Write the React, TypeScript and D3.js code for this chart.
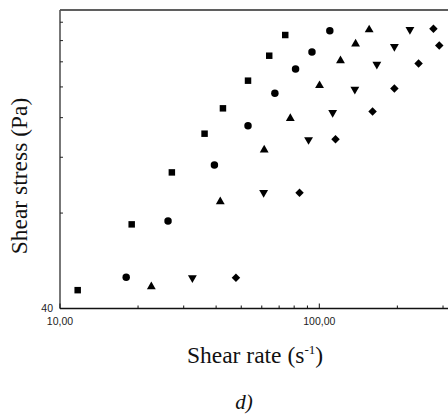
import React, { useEffect, useRef } from "react";
import * as d3 from "d3";

// shear rate (s^-1) / shear stress (Pa)
const rateSquare = [11.7, 18.9, 27.0, 36.1, 42.5, 53.1, 64.1, 73.9];
const stressSquare = [45.7, 73.7, 107.5, 142.4, 171.2, 209.3, 250.9, 291.6];

const rateCircle = [18.0, 26.1, 39.4, 53.1, 67.4, 81.0, 93.7, 109.8];
const stressCircle = [50.2, 75.5, 113.4, 150.9, 191.0, 227.8, 257.7, 300.9];

const rateTriUp = [22.5, 41.5, 61.3, 77.3, 100.2, 120.7, 138.0, 155.7];
const stressTriUp = [46.9, 86.9, 126.5, 159.2, 202.0, 242.0, 273.2, 302.9];

const rateTriDown = [32.4, 61.0, 90.9, 112.6, 137.1, 166.7, 194.8, 223.6];
const stressTriDown = [50.0, 92.8, 136.3, 165.9, 196.6, 235.7, 268.0, 303.3];

const rateDiamond = [47.7, 83.9, 115.5, 160.5, 194.8, 241.5, 290.1, 275.5];
const stressDiamond = [50.0, 92.8, 136.8, 167.4, 197.7, 237.1, 270.0, 305.3];

const xTicks = [10, 20, 30, 40, 50, 60, 70, 80, 90, 100, 200, 300, 400];
const xLabels = [
  { v: 10, text: "10,00" },
  { v: 100, text: "100,00" },
];
const yTicks = [80, 120, 160, 200, 240, 280, 320];

const App = () => {
  const svgRef = useRef(null);

  useEffect(() => {
    const width = 448;
    const height = 419;

    const svg = d3.select(svgRef.current);
    svg.selectAll("*").remove();
    svg.attr("width", width).attr("height", height);

    // log scales, extrapolated past the window on the right
    const x = d3.scaleLog().domain([10, 100]).range([60, 319.3]);
    const y = d3.scaleLog().domain([40, 400]).range([308.5, -8.5]);

    const left = 60;
    const right = 480;
    const top = 10;
    const bottom = 308.5;

    // frame
    svg.append("line")
      .attr("x1", left).attr("x2", right)
      .attr("y1", top).attr("y2", top)
      .attr("stroke", "#2a2a2a").attr("stroke-width", 1.6);
    svg.append("line")
      .attr("x1", left).attr("x2", left)
      .attr("y1", top).attr("y2", bottom)
      .attr("stroke", "#555").attr("stroke-width", 1.6);
    svg.append("line")
      .attr("x1", left).attr("x2", right)
      .attr("y1", bottom).attr("y2", bottom)
      .attr("stroke", "#111").attr("stroke-width", 1.6);

    // x ticks, pointing in
    svg.append("g")
      .selectAll("line")
      .data(xTicks)
      .join("line")
      .attr("x1", (d) => x(d)).attr("x2", (d) => x(d))
      .attr("y1", bottom)
      .attr("y2", (d) => (d === 10 || d === 100 ? bottom - 5 : bottom - 3))
      .attr("stroke", "#111").attr("stroke-width", 1);

    svg.append("g")
      .selectAll("text")
      .data(xLabels)
      .join("text")
      .attr("x", (d) => x(d.v))
      .attr("y", 325)
      .attr("text-anchor", "middle")
      .attr("font-family", "Liberation Sans, Arial, sans-serif")
      .attr("font-size", 10.5)
      .attr("fill", "#222")
      .text((d) => d.text);

    // y ticks
    svg.append("g")
      .selectAll("line")
      .data(yTicks)
      .join("line")
      .attr("x1", left).attr("x2", left + 3)
      .attr("y1", (d) => y(d)).attr("y2", (d) => y(d))
      .attr("stroke", "#222").attr("stroke-width", 1);

    svg.append("text")
      .attr("x", 53)
      .attr("y", 312)
      .attr("text-anchor", "end")
      .attr("font-family", "Liberation Sans, Arial, sans-serif")
      .attr("font-size", 10.5)
      .attr("fill", "#222")
      .text("40");

    // markers
    const series = [
      { xs: rateSquare, ys: stressSquare, type: d3.symbolSquare, size: 42, rot: 0 },
      { xs: rateCircle, ys: stressCircle, type: d3.symbolCircle, size: 44, rot: 0 },
      { xs: rateTriUp, ys: stressTriUp, type: d3.symbolTriangle, size: 34, rot: 0 },
      { xs: rateTriDown, ys: stressTriDown, type: d3.symbolTriangle, size: 34, rot: 180 },
      { xs: rateDiamond, ys: stressDiamond, type: d3.symbolSquare, size: 36, rot: 45 },
    ];

    series.forEach((s) => {
      const path = d3.symbol().type(s.type).size(s.size)();
      svg.append("g")
        .selectAll("path")
        .data(s.xs.map((v, i) => [v, s.ys[i]]))
        .join("path")
        .attr("d", path)
        .attr("transform", (d) => `translate(${x(d[0])},${y(d[1])}) rotate(${s.rot})`)
        .attr("fill", "#000");
    });

    // axis titles
    const xTitle = svg.append("text")
      .attr("x", 255)
      .attr("y", 363)
      .attr("text-anchor", "middle")
      .attr("font-family", "Liberation Serif, Times New Roman, serif")
      .attr("font-size", 23.5)
      .attr("fill", "#111");
    xTitle.append("tspan").text("Shear rate (s");
    xTitle.append("tspan").attr("font-size", 13).attr("dy", -9).text("-1");
    xTitle.append("tspan").attr("dy", 9).text(")");

    svg.append("text")
      .attr("transform", "translate(27,176) rotate(-90)")
      .attr("text-anchor", "middle")
      .attr("font-family", "Liberation Serif, Times New Roman, serif")
      .attr("font-size", 23.5)
      .attr("fill", "#111")
      .text("Shear stress (Pa)");

    svg.append("text")
      .attr("x", 244)
      .attr("y", 409)
      .attr("text-anchor", "middle")
      .attr("font-family", "Liberation Serif, Times New Roman, serif")
      .attr("font-style", "italic")
      .attr("font-size", 21)
      .attr("fill", "#111")
      .text("d)");
  }, []);

  return (
    <div style={{ position: "absolute", left: 0, top: 0 }}>
      <svg ref={svgRef} style={{ display: "block" }}></svg>
    </div>
  );
};

export default App;
